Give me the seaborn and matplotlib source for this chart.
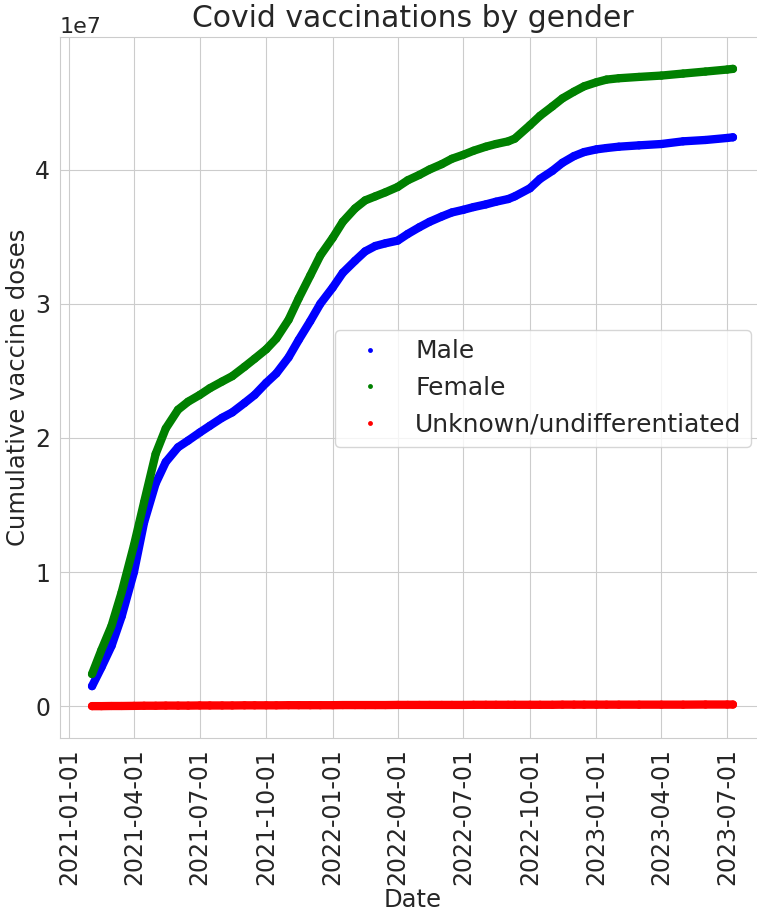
import matplotlib
matplotlib.use("Agg")
import matplotlib.pyplot as plt
import matplotlib.dates as mdates
import pandas as pd
import seaborn as sns

# Cumulative doses (millions) sampled about twice a month
dates = [
    "2021-02-02", "2021-02-15", "2021-03-01", "2021-03-15", "2021-04-01", "2021-04-15",
    "2021-05-01", "2021-05-15", "2021-06-01", "2021-06-15", "2021-07-01", "2021-07-15",
    "2021-08-01", "2021-08-15", "2021-09-01", "2021-09-15", "2021-10-01", "2021-10-15",
    "2021-11-01", "2021-11-15", "2021-12-01", "2021-12-15", "2022-01-01", "2022-01-15",
    "2022-02-01", "2022-02-15", "2022-03-01", "2022-03-15", "2022-04-01", "2022-04-15",
    "2022-05-01", "2022-05-15", "2022-06-01", "2022-06-15", "2022-07-01", "2022-07-15",
    "2022-08-01", "2022-08-15", "2022-09-01", "2022-09-10", "2022-10-01", "2022-10-15",
    "2022-11-01", "2022-11-15", "2022-12-01", "2022-12-15", "2023-01-01", "2023-01-15",
    "2023-02-01", "2023-03-01", "2023-04-01", "2023-05-01", "2023-06-01", "2023-07-01",
    "2023-07-09",
]

male = [
    1.5, 2.9, 4.5, 6.7, 10.0, 13.7,
    16.6, 18.2, 19.3, 19.8, 20.4, 20.9,
    21.5, 21.9, 22.6, 23.2, 24.1, 24.8,
    26.0, 27.3, 28.7, 30.0, 31.2, 32.3,
    33.2, 33.9, 34.3, 34.5, 34.7, 35.2,
    35.7, 36.1, 36.5, 36.8, 37.0, 37.2,
    37.4, 37.6, 37.8, 38.0, 38.6, 39.3,
    39.9, 40.5, 41.0, 41.3, 41.5, 41.6,
    41.7, 41.8, 41.9, 42.1, 42.2, 42.35,
    42.4,
]

female = [
    2.4, 4.2, 6.0, 8.5, 12.0, 15.2,
    18.8, 20.7, 22.1, 22.7, 23.2, 23.7,
    24.2, 24.6, 25.3, 25.9, 26.6, 27.4,
    28.8, 30.4, 32.1, 33.6, 34.9, 36.1,
    37.1, 37.7, 38.0, 38.3, 38.7, 39.2,
    39.6, 40.0, 40.4, 40.8, 41.1, 41.4,
    41.7, 41.9, 42.1, 42.3, 43.3, 44.0,
    44.7, 45.3, 45.8, 46.2, 46.5, 46.7,
    46.8, 46.9, 47.0, 47.15, 47.3, 47.45,
    47.5,
]

unknown = [
    0.01, 0.01, 0.02, 0.02, 0.03, 0.04,
    0.04, 0.05, 0.05, 0.05, 0.06, 0.06,
    0.06, 0.06, 0.07, 0.07, 0.07, 0.07,
    0.08, 0.08, 0.08, 0.08, 0.08, 0.09,
    0.09, 0.09, 0.09, 0.09, 0.10, 0.10,
    0.10, 0.10, 0.10, 0.10, 0.10, 0.11,
    0.11, 0.11, 0.11, 0.11, 0.11, 0.11,
    0.11, 0.12, 0.12, 0.12, 0.12, 0.12,
    0.12, 0.12, 0.12, 0.12, 0.13, 0.13,
    0.13,
]

genders = ["Male", "Female", "Unknown/undifferentiated"]
colors = ["blue", "green", "red"]

frame = pd.DataFrame({
    "Date": pd.to_datetime(dates * 3),
    "doses": [v * 1e6 for v in male + female + unknown],
    "gender": sum([[g] * len(dates) for g in genders], []),
})

sns.set_style("whitegrid")
plt.rcParams["font.family"] = ["DejaVu Sans"]

fig = plt.figure(figsize=(7.57, 9.16), dpi=100)
ax = fig.add_axes([60 / 757, 178 / 916, 705 / 757, 701 / 916])

palette = dict(zip(genders, colors))
sns.lineplot(data=frame, x="Date", y="doses", hue="gender", palette=palette,
             linewidth=6.0, legend=False, ax=ax, solid_capstyle="round",
             solid_joinstyle="round")
sns.scatterplot(data=frame, x="Date", y="doses", hue="gender", palette=palette,
                s=34, linewidth=0, ax=ax)

ax.xaxis.set_major_locator(mdates.MonthLocator(bymonth=[1, 4, 7, 10]))
ax.xaxis.set_major_formatter(mdates.DateFormatter("%Y-%m-%d"))
ax.tick_params(axis="x", labelrotation=90, labelsize=17, pad=4)
ax.tick_params(axis="y", labelsize=17)
ax.yaxis.get_offset_text().set_fontsize(16)

ax.set_title("Covid vaccinations by gender", fontsize=21.5, pad=7)
ax.set_xlabel("Date", fontsize=17.5, labelpad=2)
ax.set_ylabel("Cumulative vaccine doses", fontsize=17.5)

ax.legend(loc="center left", bbox_to_anchor=(335 / 757, 1 - 388 / 916),
          bbox_transform=fig.transFigure, borderaxespad=0,
          fontsize=18, markerscale=0.6, title=None)

fig.savefig("out.png", dpi=100)
